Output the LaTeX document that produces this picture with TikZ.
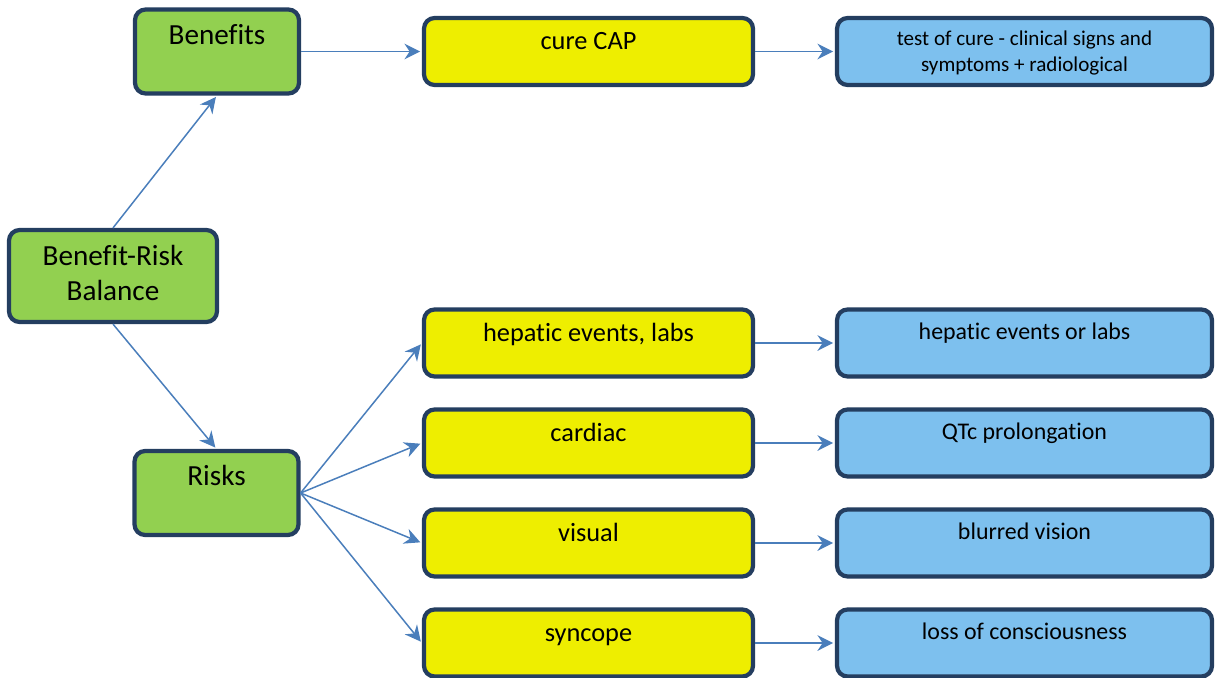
\documentclass[tikz,border=0pt]{standalone}
\usepackage{fontspec}
\setmainfont{Carlito}[Ligatures={NoCommon}]
\usepackage{tikz}
\usetikzlibrary{arrows.meta}
\definecolor{boxline}{RGB}{36,62,96}
\definecolor{leafgreen}{RGB}{146,208,80}
\definecolor{hiyellow}{RGB}{238,238,0}
\definecolor{skyblue}{RGB}{125,192,238}
\definecolor{linkblue}{RGB}{74,126,187}
\tikzstyle{box}=[rectangle,rounded corners=6pt,draw=boxline,line width=2.4pt,inner ysep=0pt,inner xsep=4pt]
\tikzstyle{topic}=[box,fill=leafgreen,minimum width=3.28cm,text height=0.69cm,text depth=0.99cm,font=\fontsize{16.6}{20}\selectfont]
\tikzstyle{concern}=[box,fill=hiyellow,minimum width=6.58cm,text height=0.63cm,text depth=0.71cm,font=\fontsize{15}{18}\selectfont]
\tikzstyle{measure}=[box,fill=skyblue,minimum width=7.5cm,text height=0.59cm,text depth=0.75cm,font=\fontsize{13.6}{16.5}\selectfont]
\tikzstyle{link}=[draw=linkblue,line width=0.85pt]

\begin{document}
\begin{tikzpicture}[x=0.02cm,y=-0.02cm,shorten >=1pt,->,>={Stealth[length=9pt,width=9pt,inset=3pt]}]
  \useasboundingbox (0,0) rectangle (1215,677);
  % balance and its two sides
  \node[topic,minimum width=4.16cm,text height=0.71cm,text depth=1.13cm] (BRB) at (113,276)
    {\begin{tabular}[t]{@{}c@{}}Benefit-Risk\\Balance\end{tabular}};
  \node[topic] (BEN) at (217,51.5)  {Benefits};
  \node[topic] (RSK) at (216.5,493) {Risks};
  % what is looked at
  \node[concern] (CAP) at (588.5,51.5) {cure CAP};
  \node[concern] (HEP) at (588.5,343)  {hepatic events, labs};
  \node[concern] (CAR) at (588.5,443)  {cardiac};
  \node[concern] (VIS) at (588.5,543)  {visual};
  \node[concern] (SYN) at (588.5,643)  {syncope};
  % how it is measured
  \node[measure,text height=0.55cm,text depth=0.79cm,font=\fontsize{12}{14.8}\selectfont] (TOC) at (1024.5,51.5)
    {\begin{tabular}[t]{@{}c@{}}test of cure - clinical signs and\\symptoms + radiological\end{tabular}};
  \node[measure] (HEPM) at (1024.5,343) {hepatic events or labs};
  \node[measure] (QTC)  at (1024.5,443) {QTc prolongation};
  \node[measure] (BLV)  at (1024.5,543) {blurred vision};
  \node[measure] (LOC)  at (1024.5,643) {loss of consciousness};
  % links
  \draw[link] (BRB.north) -- (BEN.south);
  \draw[link] (BRB.south) -- (RSK.north);
  \draw[link] (BEN.east) -- (CAP.west);
  \draw[link] (RSK.east) -- (HEP.west);
  \draw[link] (RSK.east) -- (CAR.west);
  \draw[link] (RSK.east) -- (VIS.west);
  \draw[link] (RSK.east) -- (SYN.west);
  \draw[link] (CAP.east) -- (TOC.west);
  \draw[link] (HEP.east) -- (HEPM.west);
  \draw[link] (CAR.east) -- (QTC.west);
  \draw[link] (VIS.east) -- (BLV.west);
  \draw[link] (SYN.east) -- (LOC.west);
\end{tikzpicture}
\end{document}
